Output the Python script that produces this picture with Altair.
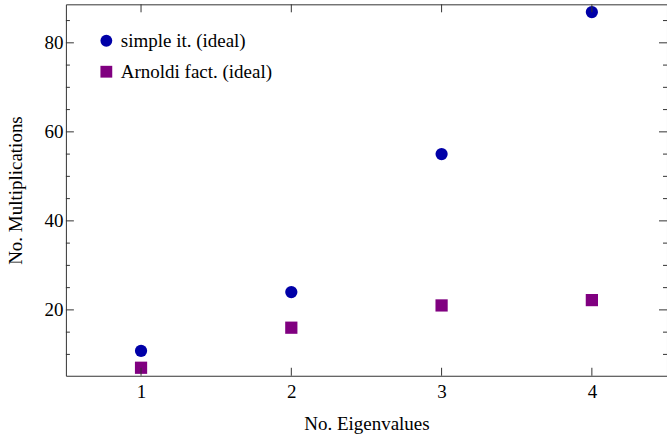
import altair as alt
import pandas as pd

# ---- data ----
eigenvalues = [1, 2, 3, 4]
simple_ideal = [10.8, 24.0, 55.0, 86.9]
arnoldi_ideal = [7.0, 16.0, 21.0, 22.2]
series_names = ["simple it. (ideal)", "Arnoldi fact. (ideal)"]
series_colors = ["#0000a8", "#800080"]
series_shapes = ["circle", "square"]

x_major = [1, 2, 3, 4]
y_major = [20, 40, 60, 80]
y_minor = [10, 15, 25, 30, 35, 45, 50, 55, 65, 70, 75, 85]

W, H = 602, 372
FONT = "Liberation Serif"
FS = 19
TICK_COLOR = "#333333"
XTITLE = "No. Eigenvalues"
YTITLE = "No. Multiplications"

rows = []
for x, a, b in zip(eigenvalues, simple_ideal, arnoldi_ideal):
    rows.append({"x": x, "y": a, "s": series_names[0]})
    rows.append({"x": x, "y": b, "s": series_names[1]})
df = pd.DataFrame(rows)

xscale = alt.Scale(domain=[0.5, 4.5], nice=False, zero=False)
yscale = alt.Scale(domain=[5.2, 88.65], nice=False, zero=False)

xaxis = alt.Axis(values=x_major, ticks=False, tickSize=0, domain=False, grid=False,
                 labelPadding=7, titlePadding=13, format="d")
yaxis = alt.Axis(values=y_major, ticks=False, tickSize=0, domain=False, grid=False,
                 labelPadding=3, titlePadding=18, format="d")

points = alt.Chart(df).mark_point(filled=True, opacity=1, size=150).encode(
    x=alt.X("x:Q", scale=xscale, title=XTITLE, axis=xaxis),
    y=alt.Y("y:Q", scale=yscale, title=YTITLE, axis=yaxis),
    color=alt.Color("s:N", scale=alt.Scale(domain=series_names, range=series_colors),
                    legend=alt.Legend(title=None, orient="none", legendX=31, legendY=27,
                                      symbolSize=140, labelFontSize=FS, labelFont=FONT,
                                      labelColor="black", labelOffset=5, rowPadding=11,
                                      padding=0, symbolStrokeWidth=0)),
    shape=alt.Shape("s:N", scale=alt.Scale(domain=series_names, range=series_shapes),
                    legend=None),
)

xt = pd.DataFrame({"v": x_major})
yt = pd.DataFrame({"v": y_major})
ym = pd.DataFrame({"v": y_minor})

def xticks(y0, y1):
    return alt.Chart(xt).mark_rule(color=TICK_COLOR, strokeWidth=1).encode(
        x=alt.X("v:Q", scale=xscale, title=XTITLE, axis=xaxis),
        y=alt.value(y0), y2=alt.value(y1))

def yticks(data, x0, x1):
    return alt.Chart(data).mark_rule(color=TICK_COLOR, strokeWidth=1).encode(
        y=alt.Y("v:Q", scale=yscale, title=YTITLE, axis=yaxis),
        x=alt.value(x0), x2=alt.value(x1))

ticks = [
    xticks(H, H - 8), xticks(0, 8),
    yticks(yt, 0, 8), yticks(yt, W, W - 8),
    yticks(ym, 0, 4), yticks(ym, W, W - 4),
]

chart = alt.layer(points, *ticks).properties(
    width=W, height=H,
    background="white",
    autosize=alt.AutoSizeParams(type="none"),
    padding={"left": 66, "top": 4, "right": 0, "bottom": 62},
).configure(
    font=FONT,
    view=alt.ViewConfig(stroke="#333333", strokeWidth=1),
    axis=alt.AxisConfig(labelFont=FONT, labelFontSize=FS, labelColor="black",
                        titleFont=FONT, titleFontSize=FS, titleColor="black",
                        titleFontWeight="normal"),
    legend=alt.LegendConfig(labelFont=FONT, labelFontSize=FS, labelColor="black"),
    style={"guide-label": {"font": FONT, "fontSize": FS, "fill": "black"}},
)

chart.save("out.html", embed_options={"renderer": "svg", "actions": False})
